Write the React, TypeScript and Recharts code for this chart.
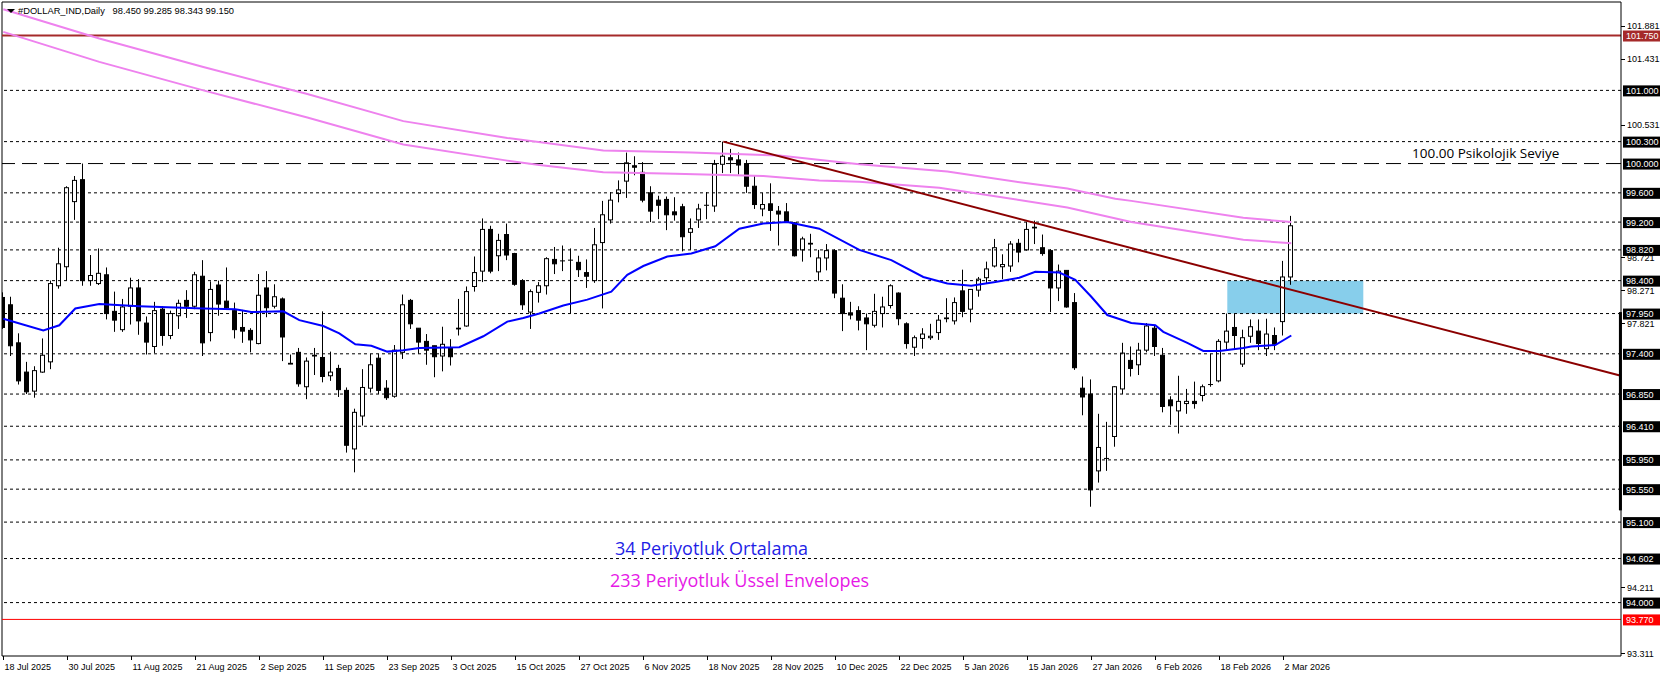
import React from "react";
import { ComposedChart, Bar, Line, XAxis, YAxis, ReferenceLine, ReferenceArea } from "recharts";

const xLabels = [
  "18 Jul 2025", "30 Jul 2025", "11 Aug 2025", "21 Aug 2025", "2 Sep 2025", "11 Sep 2025",
  "23 Sep 2025", "3 Oct 2025", "15 Oct 2025", "27 Oct 2025", "6 Nov 2025", "18 Nov 2025",
  "28 Nov 2025", "10 Dec 2025", "22 Dec 2025", "5 Jan 2026", "15 Jan 2026", "27 Jan 2026",
  "6 Feb 2026", "18 Feb 2026", "2 Mar 2026",
];
const barsPerLabel = 8;

const opens = [
  98.17, 98.07, 97.55, 97.15, 96.89, 97.15, 97.29, 98.33, 98.59, 99.48,
  99.78, 98.40, 98.36, 98.48, 97.98, 97.73, 98.05, 98.30, 97.82, 97.50,
  98.01, 97.65, 97.92, 98.13, 98.05, 98.46, 97.69, 98.34, 98.12, 97.99,
  97.76, 97.72, 97.54, 98.30, 98.05, 98.15, 97.27, 97.42, 96.95, 97.37,
  97.35, 97.10, 97.20, 96.90, 96.10, 96.55, 96.93, 97.34, 96.93, 96.82,
  97.42, 98.13, 97.75, 97.57, 97.51, 97.37, 97.48, 97.74, 97.78, 98.32,
  98.53, 99.10, 98.74, 99.03, 98.77, 98.40, 97.97, 98.24, 98.33, 98.69,
  98.67, 98.68, 98.65, 98.51, 98.40, 98.92, 99.23, 99.59, 99.76, 99.97,
  99.88, 99.60, 99.50, 99.51, 99.34, 99.41, 99.06, 99.23, 99.43, 99.42,
  99.99, 100.08, 100.05, 100.00, 99.69, 99.38, 99.45, 99.35, 99.34, 99.19,
  98.82, 98.91, 98.52, 98.71, 98.81, 98.16, 97.96, 97.99, 97.89, 97.79,
  97.95, 98.06, 98.23, 97.81, 97.49, 97.61, 97.62, 97.69, 97.88, 97.85,
  98.26, 98.01, 98.27, 98.44, 98.60, 98.59, 98.60, 98.91, 98.82, 99.13,
  98.85, 98.81, 98.30, 98.54, 98.10, 96.93, 96.85, 95.80, 95.97, 96.27,
  96.92, 97.31, 97.25, 97.45, 97.75, 97.38, 96.77, 96.62, 96.72, 96.75,
  96.83, 96.98, 97.03, 97.56, 97.76, 97.26, 97.64, 97.71, 97.47, 97.65,
  97.84, 98.45,
];
const highs = [
  98.24, 98.18, 97.68, 97.29, 97.23, 97.61, 98.40, 98.85, 99.69, 99.83,
  100.00, 98.75, 98.84, 98.58, 98.25, 98.15, 98.44, 98.42, 97.91, 98.11,
  98.05, 97.99, 98.14, 98.27, 98.52, 98.68, 98.39, 98.40, 98.58, 98.10,
  98.00, 97.75, 98.49, 98.53, 98.35, 98.17, 97.39, 97.48, 97.35, 97.48,
  97.98, 97.43, 97.25, 96.94, 96.65, 97.19, 97.40, 97.40, 97.04, 97.52,
  98.21, 98.15, 97.75, 97.67, 97.51, 97.77, 97.60, 98.15, 98.32, 98.73,
  99.25, 99.15, 99.04, 99.18, 98.78, 98.42, 98.28, 98.38, 98.72, 98.86,
  98.88, 98.84, 98.74, 98.69, 99.12, 99.49, 99.61, 99.77, 100.15, 100.10,
  100.02, 99.69, 99.56, 99.55, 99.54, 99.45, 99.25, 99.45, 99.61, 100.05,
  100.30, 100.20, 100.15, 100.05, 99.83, 99.60, 99.73, 99.42, 99.46, 99.20,
  99.00, 99.04, 98.82, 98.90, 98.83, 98.35, 98.11, 98.05, 97.95, 98.22,
  98.18, 98.35, 98.24, 97.83, 97.65, 97.75, 97.81, 97.93, 98.16, 98.17,
  98.55, 98.28, 98.45, 98.66, 98.97, 98.76, 98.94, 98.97, 99.20, 99.22,
  99.03, 98.83, 98.62, 98.54, 98.23, 97.09, 97.05, 96.58, 96.47, 96.96,
  97.55, 97.50, 97.55, 97.82, 97.78, 97.48, 96.82, 97.10, 96.92, 97.02,
  96.98, 97.40, 97.60, 97.95, 97.95, 97.73, 97.87, 97.87, 97.88, 97.76,
  98.67, 99.285,
];
const lows = [
  97.74, 97.37, 96.98, 96.85, 96.80, 97.14, 97.19, 98.29, 98.40, 99.23,
  98.33, 98.33, 98.34, 97.87, 97.70, 97.70, 97.80, 97.66, 97.39, 97.41,
  97.51, 97.60, 97.74, 97.89, 98.01, 97.37, 97.57, 97.92, 98.00, 97.61,
  97.55, 97.42, 97.53, 97.90, 98.02, 97.30, 97.26, 96.95, 96.78, 97.11,
  97.01, 97.03, 96.81, 96.05, 95.78, 96.42, 96.87, 96.85, 96.77, 96.80,
  97.33, 97.74, 97.40, 97.25, 97.08, 97.16, 97.24, 97.65, 97.77, 98.25,
  98.38, 98.50, 98.53, 98.68, 98.33, 98.00, 97.74, 98.10, 98.21, 98.49,
  98.53, 97.95, 98.45, 98.30, 98.37, 98.02, 99.18, 99.47, 99.53, 99.84,
  99.47, 99.20, 99.24, 99.09, 99.22, 98.80, 98.82, 99.12, 99.24, 99.34,
  99.87, 99.87, 99.85, 99.60, 99.38, 99.28, 99.08, 98.88, 99.19, 98.73,
  98.66, 98.72, 98.40, 98.54, 98.16, 97.71, 97.87, 97.72, 97.45, 97.76,
  97.76, 98.02, 97.79, 97.47, 97.37, 97.47, 97.59, 97.59, 97.83, 97.80,
  97.90, 97.83, 98.18, 98.36, 98.58, 98.42, 98.52, 98.65, 98.81, 98.90,
  98.74, 97.97, 98.12, 98.03, 97.18, 96.56, 95.31, 95.64, 95.80, 96.13,
  96.85, 97.09, 97.11, 97.42, 97.37, 96.60, 96.43, 96.31, 96.58, 96.65,
  96.75, 96.95, 97.01, 97.46, 97.46, 97.22, 97.55, 97.45, 97.37, 97.45,
  97.65, 98.343,
];
const closes = [
  97.76, 97.51, 97.03, 96.88, 97.17, 97.38, 98.36, 98.63, 99.67, 99.77,
  98.40, 98.47, 98.50, 97.95, 97.86, 98.04, 98.30, 97.85, 97.56, 97.99,
  97.65, 97.95, 98.09, 98.05, 98.48, 97.55, 98.28, 98.08, 98.03, 97.73,
  97.71, 97.59, 98.20, 98.03, 98.18, 97.63, 97.26, 96.99, 97.30, 97.38,
  97.09, 97.15, 96.91, 96.15, 96.60, 96.94, 97.25, 96.90, 96.80, 97.45,
  98.07, 97.81, 97.56, 97.45, 97.36, 97.53, 97.36, 97.75, 98.25, 98.51,
  99.10, 98.53, 98.95, 98.75, 98.35, 98.07, 98.25, 98.33, 98.70, 98.63,
  98.67, 98.68, 98.55, 98.46, 98.89, 99.30, 99.50, 99.64, 100.01, 99.95,
  99.50, 99.35, 99.43, 99.30, 99.30, 99.00, 99.11, 99.38, 99.43, 99.99,
  100.10, 100.05, 99.98, 99.69, 99.44, 99.44, 99.36, 99.31, 99.20, 98.74,
  98.97, 98.90, 98.71, 98.81, 98.23, 97.95, 97.93, 97.86, 97.81, 97.98,
  98.04, 98.33, 97.88, 97.54, 97.62, 97.67, 97.64, 97.86, 97.89, 98.10,
  97.98, 98.28, 98.42, 98.56, 98.85, 98.62, 98.90, 98.79, 99.10, 99.12,
  98.77, 98.30, 98.53, 98.04, 97.21, 96.81, 95.54, 96.12, 95.97, 96.95,
  97.41, 97.20, 97.45, 97.78, 97.50, 96.68, 96.69, 96.75, 96.75, 96.72,
  96.95, 96.98, 97.57, 97.71, 97.65, 97.62, 97.77, 97.54, 97.67, 97.53,
  98.45, 99.15,
];

// [bar index, value]
const ma34Points: [number, number][] = [
  [0, 97.88], [5, 97.72], [7, 97.79], [9, 98.02], [12, 98.08], [17, 98.05], [25, 98.02],
  [29, 98.01], [31, 97.97], [35, 97.98], [37, 97.86], [40, 97.78], [42, 97.68], [44, 97.53],
  [46, 97.51], [48, 97.43], [50, 97.45], [52, 97.48], [57, 97.49], [60, 97.64], [63, 97.84],
  [65, 97.89], [67, 97.95], [70, 98.06], [73, 98.14], [76, 98.25], [78, 98.48], [80, 98.60],
  [83, 98.73], [86, 98.77], [89, 98.87], [92, 99.11], [95, 99.18], [98, 99.20], [102, 99.11],
  [107, 98.82], [111, 98.68], [115, 98.45], [118, 98.36], [121, 98.33], [124, 98.38],
  [127, 98.44], [129, 98.52], [132, 98.51], [134, 98.41], [136, 98.18], [138, 97.93],
  [141, 97.82], [144, 97.79], [145, 97.70], [148, 97.55], [150, 97.44], [152, 97.44],
  [155, 97.48], [156, 97.50], [159, 97.52], [161, 97.65],
];
const envUpperPoints: [number, number][] = [
  [0, 102.11], [12, 101.71], [25, 101.32], [38, 100.95], [50, 100.58], [63, 100.35],
  [75, 100.18], [86, 100.15], [97, 100.11], [107, 99.99], [118, 99.89], [128, 99.73],
  [133, 99.66], [139, 99.52], [141, 99.49], [155, 99.26], [161, 99.20],
];
const envLowerPoints: [number, number][] = [
  [0, 101.80], [12, 101.39], [25, 101.00], [38, 100.63], [50, 100.26], [63, 100.04],
  [67, 99.98], [75, 99.88], [84, 99.86], [95, 99.83], [102, 99.77], [107, 99.75],
  [117, 99.67], [133, 99.40], [141, 99.20], [155, 98.96], [161, 98.91],
];

const dottedLevels = [101.0, 100.3, 99.6, 99.2, 98.82, 98.4, 97.95, 97.4, 96.85, 96.41, 95.95, 95.55, 95.1, 94.602, 94.0];
const dottedLabels = ["101.000", "100.300", "99.600", "99.200", "98.820", "98.400", "97.950", "97.400", "96.850", "96.410", "95.950", "95.550", "95.100", "94.602", "94.000"];
const psychLevel = 100.0;
const psychLabel = "100.000";
const topLevel = 101.75;
const topLabel = "101.750";
const bottomLevel = 93.77;
const bottomLabel = "93.770";
const scaleTicks = [101.881, 101.431, 100.531, 98.721, 98.271, 97.821, 94.211, 93.311];
const trendStart = { bar: 90, price: 100.3 };
const trendEnd = { bar: 202.2, price: 97.1 };
const zone = { fromBar: 153, toBar: 170, low: 97.95, high: 98.4 };
const rangeMarker = { high: 97.97, low: 95.26 };

const headerText = "#DOLLAR_IND,Daily\u00A0\u00A0 98.450 99.285 98.343 99.150";
const psychText = "100.00 Psikolojik Seviye";
const maText = "34 Periyotluk Ortalama";
const envText = "233 Periyotluk Üssel Envelopes";

const X_MIN = -0.1625;
const X_MAX = 202.2125;
const Y_MIN = 93.27;
const Y_MAX = 102.208;

type Row = { i: number; o?: number; h?: number; l?: number; c?: number; ma?: number; up?: number; dn?: number };
const data: Row[] = opens.map((o, i) => ({ i, o, h: highs[i], l: lows[i], c: closes[i] }));
ma34Points.forEach(([b, v]) => { data[b].ma = v; });
envUpperPoints.forEach(([b, v]) => { data[b].up = v; });
envLowerPoints.forEach(([b, v]) => { data[b].dn = v; });

const FONT = "'Liberation Sans', Arial, sans-serif";
const OPEN = "'Open Sans', sans-serif";

const Candle = (props: any) => {
  const { x, y, width, height, payload } = props;
  if (!payload || payload.h == null || height == null) return null;
  const { o, h, l, c } = payload;
  const cx = Math.floor(x + width / 2) + 0.5;
  const k = height / (h - l);
  const yO = y + (h - o) * k;
  const yC = y + (h - c) * k;
  const top = Math.min(yO, yC);
  const bot = Math.max(yO, yC);
  const up = c >= o;
  return (
    <g>
      <line x1={cx} x2={cx} y1={y} y2={y + height} stroke="#000" strokeWidth={1} />
      <rect x={cx - 2} y={top} width={4} height={Math.max(bot - top, 0.01)} fill={up ? "#fff" : "#000"} stroke="#000" strokeWidth={1} />
    </g>
  );
};

const XTick = (props: any) => {
  const { x, y, payload } = props;
  const label = xLabels[Math.round(payload.value / barsPerLabel)];
  const tx = Math.floor(x) + 0.5;
  return (
    <g>
      <line x1={tx} x2={tx} y1={y} y2={y + 4} stroke="#000" />
      <text x={tx + 1} y={y + 14} fontSize={9} fontFamily={FONT} fill="#000" textAnchor="start">{label}</text>
    </g>
  );
};

const YTick = (props: any) => {
  const { x, y, payload } = props;
  return (
    <g>
      <line x1={x} x2={x + 4} y1={Math.round(y) + 0.5} y2={Math.round(y) + 0.5} stroke="#000" />
      <text x={x + 6} y={y + 3.5} fontSize={9} fontFamily={FONT} fill="#000" textAnchor="start">{payload.value.toFixed(3)}</text>
    </g>
  );
};

const makeBoxLabel = (text: string, bg: string) => (props: any) => {
  const vb = props.viewBox || {};
  const right = (vb.x || 0) + (vb.width || 0);
  const cy = vb.y || 0;
  return (
    <g>
      <rect x={right + 2} y={cy - 5} width={37} height={11} fill={bg} />
      <text x={right + 5} y={cy + 3.5} fontSize={9} fontFamily={FONT} fill="#fff" textAnchor="start">{text}</text>
    </g>
  );
};

export default function App() {
  return (
    <div style={{ position: "absolute", left: 0, top: 0, width: 1662, height: 677, background: "#fff", overflow: "hidden" }}>
      <ComposedChart
        width={1662}
        height={677}
        data={data}
        margin={{ top: 2, right: 0, bottom: 0, left: 2 }}
      >
        <XAxis
          dataKey="i"
          type="number"
          domain={[X_MIN, X_MAX]}
          allowDataOverflow
          ticks={xLabels.map((_, k) => k * barsPerLabel)}
          interval={0}
          tickSize={0}
          tickMargin={0}
          tick={<XTick />}
          height={21}
          axisLine={{ stroke: "#000" }}
        />
        <YAxis
          orientation="right"
          type="number"
          domain={[Y_MIN, Y_MAX]}
          allowDataOverflow
          ticks={scaleTicks}
          interval={0}
          tickSize={0}
          tickMargin={0}
          tick={<YTick />}
          width={41}
          axisLine={{ stroke: "#000" }}
        />
        <ReferenceLine x={X_MIN} stroke="#000" strokeWidth={1} ifOverflow="visible" />
        <ReferenceLine y={Y_MAX} stroke="#000" strokeWidth={1} ifOverflow="visible" />
        {dottedLevels.map((lv, k) => (
          <ReferenceLine key={lv} y={lv} stroke="#000" strokeWidth={1} strokeDasharray="3 3" label={makeBoxLabel(dottedLabels[k], "#000")} />
        ))}
        <ReferenceLine y={psychLevel} stroke="#000" strokeWidth={1} strokeDasharray="15 7" label={makeBoxLabel(psychLabel, "#000")} />
        <ReferenceLine y={topLevel} stroke="#A52A2A" strokeWidth={2} label={makeBoxLabel(topLabel, "#A52A2A")} />
        <ReferenceLine y={bottomLevel} stroke="#FF0000" strokeWidth={1} label={makeBoxLabel(bottomLabel, "#FF0000")} />
        <ReferenceArea x1={zone.fromBar} x2={zone.toBar} y1={zone.low} y2={zone.high} fill="#87CEEB" fillOpacity={1} stroke="none" />
        <Line dataKey="up" stroke="#EE82EE" strokeWidth={2} dot={false} connectNulls isAnimationActive={false} type="linear" />
        <Line dataKey="dn" stroke="#EE82EE" strokeWidth={2} dot={false} connectNulls isAnimationActive={false} type="linear" />
        <ReferenceLine
          segment={[{ x: trendStart.bar, y: trendStart.price }, { x: trendEnd.bar, y: trendEnd.price }]}
          stroke="#8B0000"
          strokeWidth={2}
          ifOverflow="visible"
        />
        <Line dataKey="ma" stroke="#0000FF" strokeWidth={2} dot={false} connectNulls isAnimationActive={false} type="linear" />
        <Bar dataKey={(d: Row) => (d.h == null ? null : [d.l, d.h])} barSize={5} shape={<Candle />} isAnimationActive={false} />
        <ReferenceLine
          segment={[{ x: 202.14, y: rangeMarker.high }, { x: 202.14, y: rangeMarker.low }]}
          stroke="#000"
          strokeWidth={3}
          ifOverflow="visible"
        />
      </ComposedChart>
      <svg width={1662} height={677} style={{ position: "absolute", left: 0, top: 0, pointerEvents: "none" }}>
        <polygon points="7,9 15,9 11,13" fill="#000" />
        <text x={18} y={14} fontSize={9.3} fontFamily={FONT} fill="#000" style={{ whiteSpace: "pre" }}>{headerText}</text>
        <text x={1412} y={158} fontSize={13.5} fontFamily={OPEN} fill="#000">{psychText}</text>
        <text x={615} y={555} fontSize={18} fontFamily={OPEN} fill="#1E1EE6">{maText}</text>
        <text x={610} y={587} fontSize={18} fontFamily={OPEN} fill="#E619E6">{envText}</text>
      </svg>
    </div>
  );
}
